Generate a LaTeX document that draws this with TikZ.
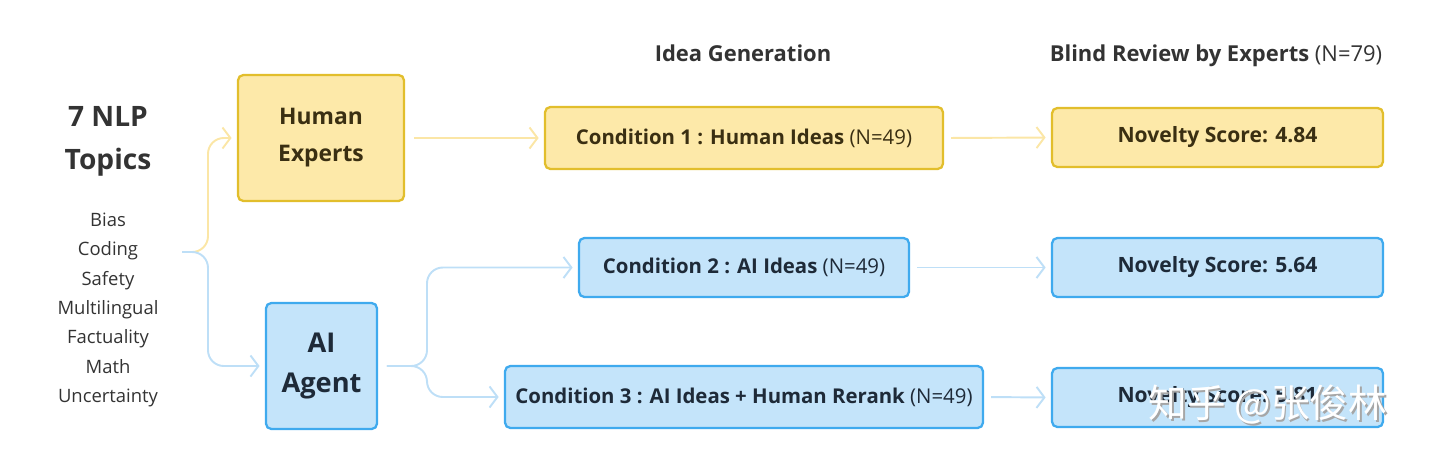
\documentclass[tikz,border=0pt]{standalone}
\usepackage{fontspec}
\setmainfont{Open Sans}
\newfontfamily\cjkfont{Noto Sans CJK SC}
\usepackage{tikz}
\usetikzlibrary{positioning,arrows.meta}
\usepackage{xcolor}
\definecolor{ylwfill}{HTML}{FDE9A9}
\definecolor{ylwedge}{HTML}{E2BE2C}
\definecolor{ylwflow}{HTML}{FBE6A6}
\definecolor{ylwtext}{HTML}{3A2F12}
\definecolor{bluefill}{HTML}{C4E4FA}
\definecolor{blueedge}{HTML}{3FAAEE}
\definecolor{blueflow}{HTML}{BEDFF7}
\definecolor{bluetext}{HTML}{1E2A38}
\definecolor{inkgray}{HTML}{333333}

\begin{document}
\begin{tikzpicture}[x=0.02cm,y=-0.02cm,
    box/.style={rounded corners=3pt,line width=1.3pt,align=center,inner sep=0pt,
                font=\fontsize{11.6}{14}\selectfont},
    humanbox/.style={box,fill=ylwfill,draw=ylwedge,text=ylwtext},
    aibox/.style={box,fill=bluefill,draw=blueedge,text=bluetext},
    flow/.style={line width=1.1pt,rounded corners=9pt,shorten >=3pt,
                 -{Straight Barb[length=4.5pt,width=12pt,line width=1.1pt]}},
    header/.style={text=inkgray,anchor=base,font=\fontsize{12.5}{15}\selectfont}]
  \useasboundingbox (0,0) rectangle (1440,468);

  \node[text=inkgray,align=center,font=\bfseries\fontsize{16}{24.5}\selectfont]
    (title) at (108,141) {7 NLP\\Topics};
  \node[text=inkgray,align=center,font=\fontsize{10.5}{16.7}\selectfont]
    (topics) at (108,310) {Bias\\Coding\\Safety\\Multilingual\\Factuality\\Math\\Uncertainty};

  \node[humanbox,minimum width=3.32cm,minimum height=2.52cm,
        font=\bfseries\fontsize{13}{21}\selectfont] (human) at (321,138) {Human\\Experts};
  \node[aibox,minimum width=2.22cm,minimum height=2.52cm,
        font=\bfseries\fontsize{15.5}{23}\selectfont] (agent) at (321.5,366) {AI\\Agent};

  \node[header] (gen) at (743,61) {\textbf{Idea Generation}};
  \node[header] (review) at (1216,61) {\textbf{Blind Review by Experts} (N=79)};

  \node[humanbox,minimum width=7.96cm,minimum height=1.24cm] (cond1) at (744,138)
    {\textbf{Condition 1 : Human Ideas} (N=49)};
  \node[aibox,minimum width=6.6cm,minimum height=1.18cm] (cond2) at (744,267.5)
    {\textbf{Condition 2 : AI Ideas} (N=49)};
  \node[aibox,minimum width=9.56cm,minimum height=1.24cm] (cond3) at (744,397)
    {\textbf{Condition 3 : AI Ideas + Human Rerank} (N=49)};

  \node[humanbox,minimum width=6.62cm,minimum height=1.18cm,font=\fontsize{12}{14}\selectfont]
    (score1) at (1217.5,137.5) {\textbf{Novelty Score: 4.84}};
  \node[aibox,minimum width=6.62cm,minimum height=1.18cm,font=\fontsize{12}{14}\selectfont]
    (score2) at (1217.5,267.5) {\textbf{Novelty Score: 5.64}};
  \node[aibox,minimum width=6.62cm,minimum height=1.18cm,font=\fontsize{12}{14}\selectfont]
    (score3) at (1217.5,397.5) {\textbf{Novelty Score: 5.81}};

  \coordinate (start) at (182,252);
  \coordinate (topicfork) at (208,252);
  \coordinate (agentfork) at (427,366);

  \draw[flow,ylwflow] (start) -- (topicfork) |- (human.west);
  \draw[flow,blueflow] (start) -- (topicfork) |- (agent.west);

  \draw[flow,ylwflow,shorten <=5pt] (human.east) -- (cond1.west);
  \draw[flow,blueflow,shorten <=5pt] (agent.east) -- (agentfork) |- (cond2.west);
  \draw[flow,blueflow,shorten <=5pt] (agent.east) -- (agentfork) |- (cond3.west);

  \draw[flow,ylwflow,shorten <=4pt] (cond1.east) -- (score1.west);
  \draw[flow,blueflow,shorten <=4pt] (cond2.east) -- (score2.west);
  \draw[flow,blueflow,shorten <=4pt] (cond3.east) -- (score3.west);

  \node[text=black!35,font=\cjkfont\fontsize{22}{26}\selectfont] (markshadow) at (1269.5,406.5) {知乎 @张俊林};
  \node[text=white,font=\cjkfont\fontsize{22}{26}\selectfont] (mark) at (1268,405) {知乎 @张俊林};
\end{tikzpicture}
\end{document}
